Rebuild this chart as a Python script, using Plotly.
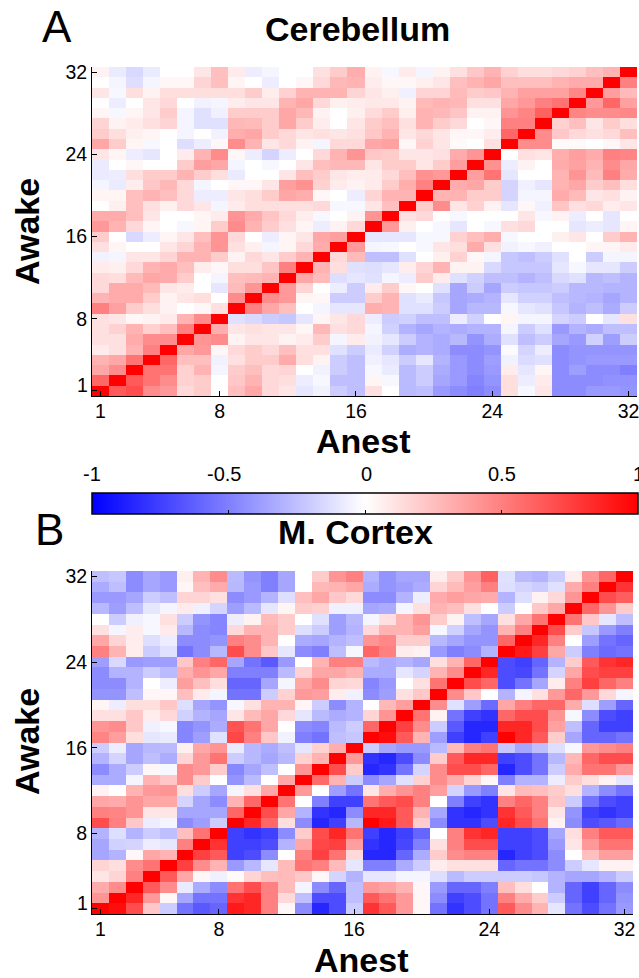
import plotly.graph_objects as go

W, H = 639, 978
labels_ticks = [1, 8, 16, 24, 32]
y_tick_text = ["", "8", "16", "24", "32"]
cells = list(range(1, 33))
colorbar_ticks = [-1, -0.5, 0, 0.5, 1]
colorbar_labels = ["-1", "-0.5", "0", "0.5", "1"]

# Rows are listed from Awake=32 (top) down to Awake=1, columns Anest 1..16 / 17..32
cereb_left = [
[.05,-.08,-.15,-.08,0,0,.1,.25,.08,-.07,-.04,0,0,.12,.2,.32],
[0,-.04,-.13,-.04,.03,.03,.17,.25,.04,0,-.07,0,.03,.15,.28,.3],
[.1,-.03,.13,.05,.13,.13,.13,.13,.13,.2,.07,.18,.3,.3,.3,.17],
[0,-.07,0,.1,.15,0,-.05,-.04,.07,.1,.1,.3,.35,.15,.06,.07],
[.04,-.03,.04,.1,.2,-.04,-.12,-.06,.2,.2,.2,.35,.28,.05,0,.06],
[.17,.05,.08,.12,.17,-.04,-.12,-.12,.28,.27,.2,.35,.2,.07,0,.1],
[.2,.13,.06,.04,0,-.04,0,-.05,.32,.35,.2,.15,.1,.12,.1,.12],
[.35,.2,.04,-.03,0,-.13,-.07,.03,.45,.3,.1,.15,.05,-.04,.15,.15],
[.1,.04,-.07,-.1,0,.08,.3,.45,.03,-.07,-.17,-.07,0,.15,.3,.42],
[-.08,0,.03,0,0,.2,.38,.35,-.04,0,-.03,0,.1,.25,.28,.28],
[-.08,-.07,.13,.2,.2,.3,.2,.13,-.08,0,0,.1,.25,.2,.1,.07],
[-.04,-.08,.07,.22,.28,.15,-.04,0,.03,.03,.1,.38,.43,.18,.08,.05],
[.04,.04,.25,.3,.25,.15,-.07,-.07,.1,.13,.2,.35,.32,.03,0,-.07],
[0,.06,.25,.12,.06,.15,.1,-.04,.08,.13,.13,.12,.12,.15,-.03,-.03],
[.33,.33,.25,.1,0,0,.04,.08,.42,.33,.23,.15,.07,-.03,0,.05],
[.4,.3,.15,.04,0,-.03,.04,.2,.45,.3,.2,.12,.04,-.07,.05,.15],
[.2,0,-.15,-.07,.04,.1,.25,.42,.15,0,-.07,.04,.1,.35,.38,1],
[.12,.04,0,0,.1,.17,.3,.42,.12,.06,-.04,.04,.15,.33,1,.4],
[-.05,-.04,.1,.1,.17,.3,.3,.2,.05,.15,.1,.2,.3,1,.15,.27],
[.08,.06,.15,.3,.33,.25,.07,.03,.13,.13,.23,.5,1,.3,.13,-.12],
[.15,.13,.27,.35,.33,.2,0,-.04,.25,.27,.3,1,.35,.27,-.13,-.1],
[.15,.33,.33,.27,.1,.08,0,-.1,.27,.42,1,.4,.17,0,-.07,-.2],
[.3,.33,.33,.2,.05,.1,.13,0,.45,1,.45,.4,.04,.03,-.2,-.2],
[.5,.37,.2,.13,.05,0,.03,.12,1,.5,.35,.25,0,-.04,-.1,-.1],
[.12,.1,.03,.05,.08,.3,.45,1,-.12,-.15,-.2,-.22,-.1,.04,.1,.15],
[.12,.18,.3,.18,.25,.5,1,.32,.1,.12,.1,.1,.04,.28,.12,.15],
[.12,.12,.33,.45,.45,1,.42,.45,.05,.1,.1,.05,.08,.2,-.04,.08],
[.08,.12,.3,.5,1,.35,.4,.03,.15,.2,.15,.25,.12,.12,-.12,-.2],
[.3,.35,.55,1,.6,.25,.25,-.05,.12,.2,.2,.33,.13,.05,-.2,-.25],
[.35,.45,1,.55,.55,.18,.3,-.04,.2,.25,.15,.17,0,-.05,-.2,-.25],
[.6,1,.65,.55,.45,.18,.2,0,.22,.3,.15,.13,-.07,-.03,-.25,-.25],
[1,.65,.7,.45,.4,.15,.2,0,.25,.35,.15,.1,-.1,-.05,-.2,-.25],
]
cereb_right = [
[.05,-.03,.08,-.04,.05,.12,.22,.3,.18,.13,.13,.15,.18,.25,.3,1],
[.07,.03,.03,.06,.1,.25,.3,.35,.25,.25,.25,.3,.33,.33,1,.5],
[.1,.06,-.06,.17,.17,.27,.2,.22,.3,.37,.37,.37,.47,1,.38,.27],
[.09,.09,.05,.27,.3,.28,.12,.12,.35,.4,.5,.55,1,.4,.6,.37],
[.14,.2,.06,.3,.28,.23,.05,.05,.42,.48,.62,1,.48,.45,.45,.47],
[.2,.25,.12,.3,.2,.15,0,.03,.5,.5,1,.18,.25,.1,.2,.13],
[.22,.3,.1,.15,.1,.03,.03,.07,.6,1,.45,.22,.15,.12,.15,.25],
[.35,.37,.03,.18,.1,.02,0,.12,1,.45,.45,.02,.02,0,.03,.1],
[.22,.2,.1,.1,.12,.33,.42,1,0,.12,.1,.32,.38,.33,.5,.48],
[.1,.2,.2,.1,.2,.38,1,.43,-.07,.05,0,.33,.37,.3,.45,.35],
[.08,.15,.25,.43,.4,1,.38,.55,-.1,0,0,.3,.42,.27,.5,.33],
[.08,.2,.32,.5,1,.33,.35,.2,-.17,-.06,-.1,.3,.35,.2,.25,.13],
[.17,.3,.3,1,.3,.3,.2,.2,-.17,-.04,-.04,.33,.27,.1,.12,.05],
[.1,.25,1,.2,.45,.1,.18,.05,-.1,.03,-.06,.23,.12,.15,.07,.1],
[.42,1,.12,.15,0,-.03,0,0,0,.1,-.03,.05,-.07,0,-.1,0],
[1,.4,.06,0,-.03,-.1,0,-.03,.12,.15,0,0,-.1,-.07,-.1,.04],
[-.1,-.1,-.1,-.03,-.03,.18,.25,.32,-.03,0,0,.06,.1,0,.2,.3],
[-.04,-.03,0,-.03,.1,.13,.33,.12,-.05,-.03,-.06,0,0,.04,.04,.08],
[-.25,-.25,-.12,0,.06,.18,.03,-.04,-.22,-.25,-.2,-.12,0,-.2,-.04,-.04],
[-.13,-.1,.07,.17,.3,.05,.05,-.15,-.22,-.22,-.22,-.1,-.03,-.1,-.1,-.2],
[-.12,-.04,-.07,.2,.08,-.12,-.18,-.25,-.25,-.3,-.25,-.15,-.12,-.28,-.25,-.3],
[.08,.2,.03,0,-.12,-.35,-.2,-.35,-.2,-.22,-.22,-.2,-.28,-.28,-.3,-.3],
[.2,.3,-.12,-.08,-.22,-.35,-.33,-.3,-.1,-.18,-.18,-.25,-.28,-.3,-.35,-.3],
[.32,.3,-.12,-.12,-.2,-.35,-.28,-.28,-.03,-.1,-.12,-.22,-.3,-.25,-.33,-.2],
[-.07,-.2,-.18,-.25,-.25,-.07,-.18,0,.04,-.04,-.04,-.17,-.2,0,-.1,.12],
[-.04,-.18,-.3,-.35,-.3,-.32,-.3,-.3,-.04,-.2,-.12,-.4,-.3,-.33,-.25,-.25],
[-.05,-.1,-.2,-.3,-.33,-.28,-.42,-.32,-.12,-.25,-.2,-.35,-.4,-.18,-.38,-.2],
[-.08,-.18,-.32,-.3,-.33,-.45,-.45,-.42,-.02,-.17,-.07,-.45,-.42,-.42,-.42,-.42],
[-.06,-.1,-.2,-.1,-.3,-.4,-.45,-.38,-.05,-.14,-.12,-.45,-.42,-.4,-.4,-.4],
[-.03,-.08,-.27,-.2,-.33,-.4,-.45,-.4,.07,-.1,.04,-.45,-.38,-.45,-.45,-.5],
[.04,-.03,-.27,-.2,-.35,-.4,-.48,-.42,.13,-.07,.08,-.45,-.45,-.45,-.43,-.43],
[.12,0,-.27,-.25,-.4,-.45,-.5,-.45,.13,-.03,.1,-.45,-.45,-.4,-.4,-.42],
]
cortex_left = [
[-.25,-.22,-.45,-.35,-.4,.06,.3,.45,-.27,-.42,-.5,-.35,0,.2,.42,.5],
[-.33,-.25,-.45,-.35,-.4,.03,.25,.33,-.28,-.4,-.5,-.35,0,.28,.3,.35],
[-.4,-.4,-.35,-.2,-.25,.17,.17,.12,-.45,-.4,-.3,-.13,.25,.35,.22,.15],
[-.28,-.38,-.25,-.1,-.04,.08,-.06,-.17,-.38,-.27,-.1,.04,.2,.18,-.06,-.06],
[0,-.2,-.06,-.03,.12,-.2,-.42,-.48,-.07,.05,.27,.2,0,-.12,-.38,-.28],
[.12,-.04,.07,-.03,.08,-.28,-.45,-.48,.15,.3,.3,.2,-.13,-.2,-.38,-.3],
[.35,.17,.07,-.13,-.07,-.45,-.45,-.42,.5,.45,.3,0,-.33,-.35,-.3,-.25],
[.5,.3,.07,-.2,-.12,-.55,-.45,-.28,.7,.45,.22,-.1,-.45,-.5,-.25,-.03],
[-.38,-.15,-.4,-.38,-.38,.22,.5,.6,-.35,-.55,-.65,-.4,0,.3,.5,.5],
[-.45,-.3,-.3,-.2,-.27,.32,.42,.35,-.5,-.5,-.5,-.27,.18,.35,.35,.3],
[-.45,-.45,-.3,0,-.07,.38,.25,.13,-.6,-.6,-.35,-.04,.35,.45,.17,.15],
[-.42,-.42,-.25,.03,.03,.25,.08,-.04,-.55,-.55,-.2,.18,.4,.38,.07,-.06],
[.04,-.07,.13,.13,.22,-.13,-.35,-.42,-.03,.12,.3,.3,.04,-.2,-.45,-.3],
[.12,.12,.22,.07,.15,-.18,-.3,-.35,.1,.27,.35,.15,-.1,-.27,-.33,-.3],
[.42,.45,.22,-.06,-.03,-.48,-.42,-.33,.68,.55,.35,0,-.45,-.48,-.27,-.2],
[.48,.38,.13,-.1,-.08,-.48,-.38,-.12,.72,.5,.22,-.05,-.5,-.55,-.25,-.22],
[-.2,-.07,-.35,-.28,-.27,.06,.35,.42,-.08,-.28,-.33,-.25,-.1,.18,.32,1],
[-.3,-.17,-.35,-.25,-.32,.17,.4,.55,-.2,-.28,-.35,-.28,.18,.3,1,.4],
[-.45,-.33,-.2,.03,-.03,.45,.4,.2,-.47,-.35,-.25,0,.42,1,.7,.2],
[-.33,-.33,-.04,.3,.22,.45,.2,0,-.42,-.27,0,.35,1,.58,.3,-.2],
[.05,0,.3,.4,.42,.13,-.2,-.35,-.04,.12,.35,1,.4,0,-.38,-.55],
[.35,.33,.42,.35,.35,-.17,-.35,-.45,.3,.6,1,.55,0,-.5,-.75,-.75],
[.5,.48,.42,.1,.1,-.35,-.35,-.35,.6,1,.7,.35,-.3,-.8,-.85,-.45],
[.7,.5,.22,-.07,-.04,-.45,-.38,-.2,1,.85,.6,.13,-.45,-.85,-.75,-.28],
[-.3,-.13,-.3,-.2,-.25,.25,.55,1,-.75,-.8,-.75,-.45,.2,.7,.85,.55],
[-.35,-.18,-.17,-.07,-.1,.5,1,.8,-.75,-.75,-.7,-.3,.35,.72,.75,.38],
[-.35,-.3,.03,.35,.3,1,.75,.65,-.75,-.7,-.45,0,.5,.75,.55,.15],
[.17,.13,.45,.55,1,.75,.45,.3,-.4,-.28,-.1,.27,.55,.5,.27,-.1],
[.1,.17,.5,1,.65,.35,.03,-.06,.02,.17,.25,.27,.22,.03,-.17,-.3],
[.33,.45,1,.65,.45,-.08,-.33,-.45,.55,.7,.5,.27,-.04,-.45,-.6,-.25],
[.42,1,.85,.4,.03,-.35,-.55,-.55,.8,.85,.5,.15,-.25,-.7,-.7,-.25],
[1,.95,.7,.22,-.2,-.55,-.65,-.6,.9,.85,.5,.03,-.45,-.85,-.7,-.2],
]
cortex_right = [
[-.3,-.42,-.35,-.35,.07,.2,.42,.62,-.12,-.27,-.3,-.2,.07,.42,.6,1],
[-.33,-.42,-.38,-.33,.17,.27,.38,.5,-.13,-.17,-.2,-.12,.33,.5,1,.8],
[-.45,-.45,-.3,-.07,.33,.38,.35,.33,-.3,-.13,.05,.15,.42,1,.7,.63],
[-.35,-.33,-.04,.12,.3,.25,.12,0,-.2,0,.22,.35,1,.6,.42,.2],
[-.04,.12,.3,.42,.2,.05,-.25,-.35,.12,.35,.55,1,.55,.22,-.1,-.25],
[.15,.3,.3,.38,-.03,-.18,-.35,-.42,.3,.5,1,.7,.2,-.22,-.4,-.5],
[.42,.47,.2,.2,-.28,-.35,-.42,-.42,.6,1,.85,.5,0,-.38,-.55,-.6],
[.6,.5,.07,.05,-.4,-.5,-.45,-.3,1,.9,.75,.35,-.2,-.5,-.58,-.55],
[-.27,-.33,-.3,-.35,.13,.3,.6,1,-.7,-.75,-.6,-.3,.2,.65,.8,.85],
[-.33,-.33,-.1,-.17,.3,.45,1,.85,-.7,-.72,-.55,-.17,.35,.7,.75,.75],
[-.48,-.4,0,.12,.55,1,.7,.6,-.7,-.55,-.35,.07,.5,.75,.6,.5],
[-.45,-.38,.12,.22,1,.45,.22,0,-.3,-.04,.12,.4,.6,.4,.15,-.04],
[0,.28,.38,1,.45,-.12,-.38,-.58,.35,.5,.6,.6,.33,-.13,-.38,-.6],
[.17,.42,1,.55,.05,-.55,-.75,-.8,.6,.7,.7,.42,-.03,-.45,-.7,-.75],
[.6,1,.75,.45,-.2,-.65,-.85,-.85,.85,.85,.7,.37,-.25,-.6,-.75,-.75],
[1,.95,.65,.3,-.38,-.75,-.85,-.75,1,.85,.65,.2,-.35,-.6,-.6,-.55],
[-.2,-.35,-.4,-.4,-.27,.27,.5,.55,-.22,-.35,-.25,-.13,-.03,.4,.45,.5],
[-.8,-.85,-.7,-.45,.2,.65,.85,.85,-.75,-.7,-.55,-.28,.28,.6,.7,.7],
[-.85,-.8,-.55,-.17,.45,.7,.7,.6,-.85,-.7,-.55,-.2,.33,.55,.55,.4],
[-.45,-.35,-.12,.18,.45,.33,.17,.03,-.5,-.3,-.3,-.07,.2,.13,.05,-.1],
[.1,.32,.42,.5,.38,-.17,-.4,-.5,.1,.27,.25,.2,.13,-.3,-.45,-.55],
[.55,.65,.7,.5,0,-.5,-.75,-.8,.5,.6,.5,.22,-.2,-.55,-.7,-.75],
[.85,.85,.65,.3,-.35,-.8,-.85,-.8,.8,.65,.5,.1,-.42,-.75,-.8,-.75],
[1,.9,.65,.2,-.45,-.8,-.8,-.7,.85,.7,.55,.05,-.45,-.7,-.65,-.58],
[-.75,-.85,-.75,-.6,0,.5,.8,.85,-.75,-.75,-.7,-.35,.13,.5,.65,.65],
[-.8,-.85,-.72,-.5,.12,.5,.7,.7,-.75,-.75,-.7,-.4,.1,.4,.55,.55],
[-.85,-.85,-.6,-.33,.2,.45,.5,.5,-.85,-.75,-.7,-.45,0,.25,.38,.38],
[-.5,-.5,-.33,-.2,.07,.12,.12,.13,-.6,-.55,-.55,-.45,-.2,-.1,.05,.05],
[-.1,-.1,-.04,-.04,-.13,-.27,-.2,-.2,-.2,-.2,-.22,-.3,-.35,-.35,-.3,-.2],
[.4,.37,.3,.03,-.4,-.6,-.6,-.5,.25,.13,0,-.3,-.6,-.75,-.6,-.45],
[.65,.55,.4,.03,-.45,-.75,-.7,-.55,.5,.33,.2,-.2,-.6,-.75,-.6,-.42],
[.8,.65,.4,.03,-.55,-.8,-.7,-.55,.65,.45,.3,-.1,-.55,-.7,-.55,-.4],
]


def matrix(left, right):
    return [a + b for a, b in zip(left, right)][::-1]


def px_x(v):
    return v / W


def px_y(v):
    return 1 - v / H


FONT = "Liberation Sans, Arial, sans-serif"
fig = go.Figure()
fig.add_trace(go.Heatmap(z=matrix(cereb_left, cereb_right), x=cells, y=cells,
                         coloraxis="coloraxis", xaxis="x", yaxis="y",
                         hovertemplate="Anest %{x}<br>Awake %{y}<br>%{z}<extra>Cerebellum</extra>"))
fig.add_trace(go.Heatmap(z=matrix(cortex_left, cortex_right), x=cells, y=cells,
                         coloraxis="coloraxis", xaxis="x2", yaxis="y2",
                         hovertemplate="Anest %{x}<br>Awake %{y}<br>%{z}<extra>M. Cortex</extra>"))


def axis(domain, anchor, ticktext, standoff):
    return dict(domain=domain, anchor=anchor, range=[0.5, 32.5], tickmode="array",
                tickvals=labels_ticks, ticktext=ticktext,
                ticks="inside", ticklen=5, tickwidth=1, tickcolor="black",
                tickfont=dict(family=FONT, size=19.5, color="black"),
                ticklabelstandoff=standoff, ticklabeloverflow="allow",
                showgrid=False, zeroline=False, showline=True, linecolor="black", linewidth=1,
                automargin=False)


def paper_text(text, x, y, size, angle=0):
    return dict(text=text, x=px_x(x), y=px_y(y), xref="paper", yref="paper",
                xanchor="center", yanchor="middle", showarrow=False, textangle=angle,
                font=dict(family=FONT, size=size, color="black"))


TOP_A, BOT_A, TOP_B, BOT_B = 67, 396, 571, 914
x_text = [str(t) for t in labels_ticks]
cbar_label_x = [92, 224, 366, 502, 638]
annotations = [
    paper_text("<b>Cerebellum</b>", 357, 29, 34),
    paper_text("<b>M. Cortex</b>", 355, 532, 34),
    paper_text("A", 57, 27, 44),
    paper_text("B", 49, 529, 44),
    paper_text("<b>Anest</b>", 363, 441, 34),
    paper_text("<b>Anest</b>", 361, 960, 34),
    paper_text("<b>Awake</b>", 27, 232, 34, -90),
    paper_text("<b>Awake</b>", 27, 742, 34, -90),
]
annotations += [paper_text(t, x, 474, 20) for t, x in zip(colorbar_labels, cbar_label_x)]
for yr in ("y", "y2"):
    annotations.append(dict(text="1", x=px_x(75), xref="paper", xanchor="left",
                            y=1, yref=yr, yanchor="middle", yshift=6, showarrow=False,
                            font=dict(family=FONT, size=19.5, color="black")))

fig.update_layout(
    width=W, height=H, margin=dict(l=0, r=0, t=0, b=0, autoexpand=False),
    paper_bgcolor="white", plot_bgcolor="white",
    font=dict(family=FONT, color="black"),
    xaxis=axis([px_x(92), px_x(637)], "y", x_text, -2),
    yaxis=axis([px_y(BOT_A), px_y(TOP_A)], "x", y_tick_text, 0),
    xaxis2=axis([px_x(92), px_x(633)], "y2", x_text, -2),
    yaxis2=axis([px_y(BOT_B), px_y(TOP_B)], "x2", y_tick_text, 0),
    coloraxis=dict(
        cmin=-1, cmax=1,
        colorscale=[[0, "#0000ff"], [0.5, "#ffffff"], [1, "#ff0000"]],
        colorbar=dict(
            orientation="h", x=px_x(92), xanchor="left", len=546 / W, lenmode="fraction",
            y=px_y(493), yanchor="top", yref="paper", thickness=21, thicknessmode="pixels",
            xpad=0, ypad=0, outlinecolor="black", outlinewidth=1.5, tickmode="array",
            tickvals=colorbar_ticks, ticks="inside", ticklen=4, tickcolor="black",
            showticklabels=False,
        ),
    ),
    annotations=annotations,
)
fig.write_html("out.html", config={"displayModeBar": False},
               post_script="document.body.style.margin='0';")
